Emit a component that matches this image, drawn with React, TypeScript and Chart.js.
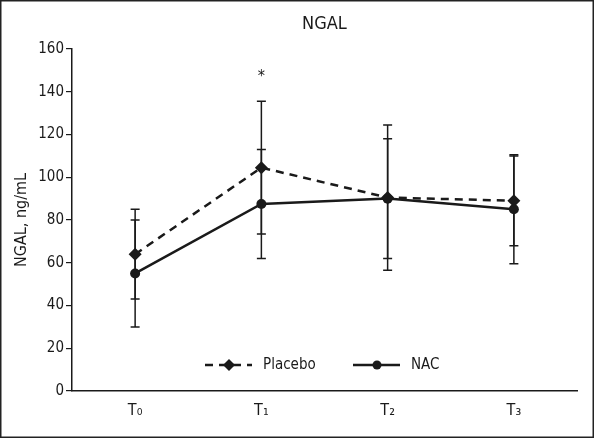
import React, { useEffect, useRef } from "react";
import { Chart, registerables } from "chart.js";

Chart.register(...registerables);

const categories = ["T\u2080", "T\u2081", "T\u2082", "T\u2083"];
const placebo = [64, 104.5, 90.5, 89];
const placeboErr = [21, 31, 34, 21];
const nac = [55, 87.5, 90, 85];
const nacErr = [25, 25.5, 28, 25.5];
const yTicks = [0, 20, 40, 60, 80, 100, 120, 140, 160];
const significance = [{ index: 1, value: 147, text: "*" }];

const FONT = '"Liberation Sans Narrow", "DejaVu Sans Condensed", "Roboto Condensed", sans-serif';
const INK = "#1a1a1a";

const errorBars = {
  id: "errorBars",
  beforeDatasetsDraw(chart: any) {
    const ctx = chart.ctx;
    const x = chart.scales.x;
    const y = chart.scales.y;
    const sets = [
      { v: placebo, e: placeboErr },
      { v: nac, e: nacErr },
    ];
    ctx.save();
    ctx.strokeStyle = INK;
    ctx.lineWidth = 1.5;
    sets.forEach((s) => {
      s.v.forEach((v, i) => {
        const px = x.getPixelForValue(i);
        const top = y.getPixelForValue(v + s.e[i]);
        const bot = y.getPixelForValue(v - s.e[i]);
        ctx.beginPath();
        ctx.moveTo(px, top);
        ctx.lineTo(px, bot);
        ctx.moveTo(px - 4.5, top);
        ctx.lineTo(px + 4.5, top);
        ctx.moveTo(px - 4.5, bot);
        ctx.lineTo(px + 4.5, bot);
        ctx.stroke();
      });
    });
    ctx.restore();
  },
};

const decorations = {
  id: "decorations",
  afterDraw(chart: any) {
    const ctx = chart.ctx;
    const area = chart.chartArea;
    const x = chart.scales.x;
    const y = chart.scales.y;
    ctx.save();
    // frame
    ctx.strokeStyle = "#222";
    ctx.lineWidth = 1.5;
    ctx.strokeRect(0.75, 0.75, chart.width - 1.5, chart.height - 1.5);
    // title
    ctx.fillStyle = INK;
    ctx.font = `18px ${FONT}`;
    ctx.textAlign = "center";
    ctx.textBaseline = "middle";
    ctx.fillText("NGAL", (area.left + area.right) / 2, 24);
    // significance
    ctx.font = `16px ${FONT}`;
    significance.forEach((s) => {
      ctx.fillText(s.text, x.getPixelForValue(s.index), y.getPixelForValue(s.value));
    });
    // legend
    const ly = area.top + 316;
    const drawItem = (x0: number, dashed: boolean, diamond: boolean, label: string) => {
      ctx.strokeStyle = INK;
      ctx.lineWidth = 2.5;
      ctx.setLineDash(dashed ? [8, 6] : []);
      ctx.beginPath();
      ctx.moveTo(x0, ly);
      ctx.lineTo(x0 + 47, ly);
      ctx.stroke();
      ctx.setLineDash([]);
      ctx.fillStyle = INK;
      const cx = x0 + 24;
      ctx.beginPath();
      if (diamond) {
        ctx.moveTo(cx, ly - 6);
        ctx.lineTo(cx + 6, ly);
        ctx.lineTo(cx, ly + 6);
        ctx.lineTo(cx - 6, ly);
        ctx.closePath();
      } else {
        ctx.arc(cx, ly, 4.5, 0, Math.PI * 2);
      }
      ctx.fill();
      ctx.font = `15px ${FONT}`;
      ctx.textAlign = "left";
      ctx.fillText(label, x0 + 58, ly);
    };
    drawItem(area.left + 133, true, true, "Placebo");
    drawItem(area.left + 281, false, false, "NAC");
    ctx.restore();
  },
};

export default function App() {
  const ref = useRef<HTMLCanvasElement | null>(null);
  useEffect(() => {
    if (!ref.current) return;
    const chart = new Chart(ref.current, {
      type: "line",
      data: {
        labels: categories,
        datasets: [
          {
            label: "Placebo",
            data: placebo,
            borderColor: INK,
            backgroundColor: INK,
            borderWidth: 2.5,
            borderDash: [8, 6],
            pointStyle: "rectRot",
            pointRadius: 6.5,
            pointBorderWidth: 0,
            tension: 0,
          },
          {
            label: "NAC",
            data: nac,
            borderColor: INK,
            backgroundColor: INK,
            borderWidth: 2.5,
            pointStyle: "circle",
            pointRadius: 5,
            pointBorderWidth: 0,
            tension: 0,
          },
        ],
      },
      options: {
        animation: false,
        responsive: false,
        maintainAspectRatio: false,
        layout: { padding: { top: 49, right: 17, left: 0, bottom: 0 } },
        plugins: {
          legend: { display: false },
          title: { display: false },
          tooltip: { enabled: false },
        },
        scales: {
          x: {
            type: "category",
            offset: true,
            grid: { display: false, drawTicks: false },
            border: { display: true, color: INK, width: 1.5 },
            ticks: {
              color: INK,
              font: { family: FONT, size: 16 },
              padding: 10,
            },
            afterFit(scale: any) {
              scale.height = 47;
            },
          },
          y: {
            min: 0,
            max: 160,
            grid: { drawOnChartArea: false, drawTicks: true, tickLength: 6, color: INK, lineWidth: 1.2 },
            border: { display: true, color: INK, width: 1.5 },
            afterBuildTicks(scale: any) {
              scale.ticks = yTicks.map((v) => ({ value: v }));
            },
            ticks: {
              color: INK,
              font: { family: FONT, size: 15 },
              padding: 2,
            },
            title: {
              display: true,
              text: "NGAL, ng/mL",
              color: INK,
              font: { family: FONT, size: 16 },
              padding: { top: 12, bottom: 0 },
            },
            afterFit(scale: any) {
              scale.width = 72;
            },
          },
        },
      },
      plugins: [errorBars, decorations],
    });
    return () => chart.destroy();
  }, []);
  return (
    <div style={{ position: "fixed", left: 0, top: 0, width: 594, height: 438, background: "#fff" }}>
      <canvas ref={ref} width={594} height={438} style={{ width: 594, height: 438 }} />
    </div>
  );
}
